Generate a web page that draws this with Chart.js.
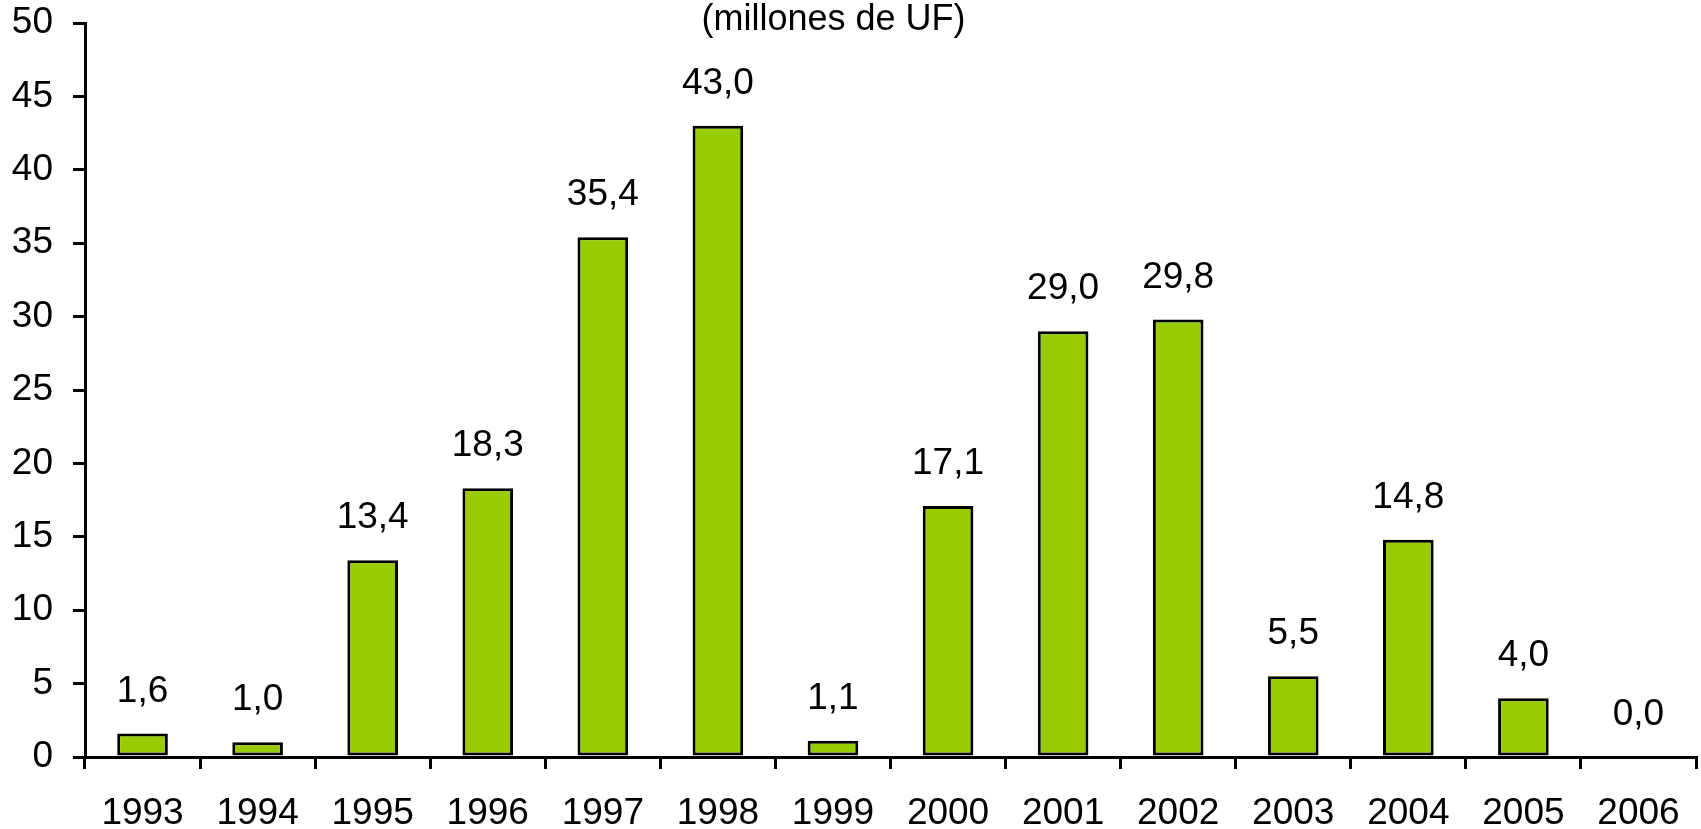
<!DOCTYPE html>
<html>
<head>
<meta charset="utf-8">
<script src="https://cdn.jsdelivr.net/npm/chart.js@4/dist/chart.umd.min.js"></script>
<style>
  html, body { margin: 0; padding: 0; background: #fff; }
  canvas { display: block; }
</style>
</head>
<body>
<canvas id="chart" width="1701" height="829"></canvas>
<script>
const years = ["1993", "1994", "1995", "1996", "1997", "1998", "1999", "2000", "2001", "2002", "2003", "2004", "2005", "2006"]
const amounts = [1.6, 1.0, 13.4, 18.3, 35.4, 43.0, 1.1, 17.1, 29.0, 29.8, 5.5, 14.8, 4.0, 0.0]
const yTicks = [0, 5, 10, 15, 20, 25, 30, 35, 40, 45, 50]
const subtitle = "(millones de UF)"

const fontFamily = "'Liberation Sans', Arial, sans-serif"

// value labels above each bar, Spanish decimal comma
const barLabels = {
  id: "barLabels",
  afterDatasetsDraw(chart) {
    const ctx = chart.ctx
    const meta = chart.getDatasetMeta(0)
    ctx.save()
    ctx.font = "37px " + fontFamily
    ctx.fillStyle = "#000"
    ctx.textAlign = "center"
    ctx.textBaseline = "alphabetic"
    meta.data.forEach((bar, i) => {
      const txt = amounts[i].toFixed(1).replace(".", ",")
      ctx.fillText(txt, bar.x, bar.y - 32)
    })
    ctx.restore()
  }
}

// subtitle at the very top, slightly left of centre like the original
const subtitleText = {
  id: "subtitleText",
  afterDraw(chart) {
    const ctx = chart.ctx
    ctx.save()
    ctx.font = "36px " + fontFamily
    ctx.fillStyle = "#000"
    ctx.textAlign = "center"
    ctx.textBaseline = "alphabetic"
    ctx.fillText(subtitle, chart.width / 2 - 17, 30)
    ctx.restore()
  }
}

new Chart(document.getElementById("chart"), {
  type: "bar",
  data: {
    labels: years,
    datasets: [{
      data: amounts,
      backgroundColor: "#99cc00",
      borderColor: "#000",
      borderWidth: 3,
      borderSkipped: false,
      categoryPercentage: 1,
      barPercentage: 0.44
    }]
  },
  options: {
    responsive: false,
    animation: false,
    layout: { padding: { top: 23, right: 5, left: 0, bottom: 0 } },
    plugins: {
      legend: { display: false },
      tooltip: { enabled: false },
      title: { display: false }
    },
    scales: {
      x: {
        grid: {
          display: true,
          offset: true,
          drawOnChartArea: false,
          drawTicks: true,
          tickLength: 12,
          tickWidth: 3,
          color: "#000",
          lineWidth: 3
        },
        border: { display: true, color: "#000", width: 3 },
        ticks: {
          color: "#000",
          font: { family: fontFamily, size: 37 },
          padding: 23,
          maxRotation: 0,
          autoSkip: false
        },
        afterFit(scale) {
          scale.height = 72
          scale.paddingLeft = 0
          scale.paddingRight = 0
        }
      },
      y: {
        min: yTicks[0],
        max: yTicks[yTicks.length - 1],
        afterBuildTicks(scale) { scale.ticks = yTicks.map(v => ({ value: v })) },
        grid: {
          display: true,
          drawOnChartArea: false,
          drawTicks: true,
          tickLength: 12,
          tickWidth: 3,
          color: "#000",
          lineWidth: 3
        },
        border: { display: true, color: "#000", width: 3 },
        ticks: {
          color: "#000",
          font: { family: fontFamily, size: 37 },
          padding: 20
        },
        afterFit(scale) {
          scale.width = 85
          scale.paddingTop = 0
          scale.paddingBottom = 0
        }
      }
    }
  },
  plugins: [barLabels, subtitleText]
})
</script>
</body>
</html>
